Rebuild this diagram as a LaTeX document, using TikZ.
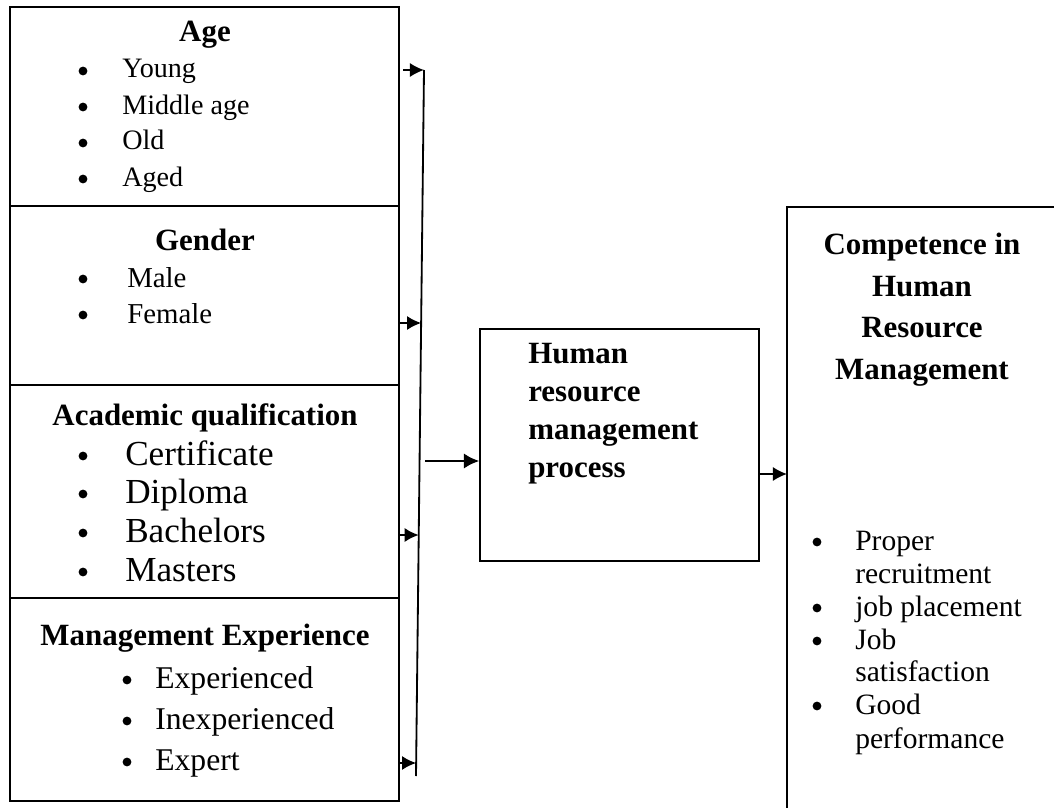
\documentclass[tikz,border=0pt]{standalone}
\usepackage{fontspec}
\setmainfont{Liberation Serif}
\usetikzlibrary{arrows.meta,positioning,fit}

\begin{document}
\begin{tikzpicture}[
  x=0.025cm, y=-0.025cm,
  every node/.style={font=\fontsize{20.5}{24}\selectfont},
  boxline/.style={draw, line width=2.1pt, inner sep=0pt},
  thinbox/.style={draw, line width=0.9pt, inner sep=0pt},
  ttl/.style={font=\fontsize{22}{26}\selectfont\bfseries},
  item/.style={anchor=base west, inner sep=0pt},
  dot/.style={circle, fill, inner sep=0pt, minimum size=0.22cm},
  link/.style={-{Latex[length=10pt,width=10pt]}, line width=1.2pt},
]

%% ── Canvas ─────────────────────────────────────────────────────────────────
\useasboundingbox (0,0) rectangle (1054,808);
\clip (0,0) rectangle (1054,808);

%% ── Left column: four input boxes ──────────────────────────────────────────
\node[boxline, fit={(10,7) (399,206)}]   (age) {};
\node[boxline, fit={(10,206) (399,385)}] (gender) {};
\node[boxline, fit={(10,385) (399,598)}] (acad) {};
\node[boxline, fit={(10,598) (399,801)}] (mgmt) {};

% Age
\node[ttl] (ageT) at (205,35) {Age};
\foreach \t/\yy [count=\i] in {Young/71, Middle age/107, Old/143, Aged/179}{
  \node[dot] (ageB\i) at (83,\yy) {};
  \node[item, font=\fontsize{20}{23}\selectfont] (ageI\i) at (122,\yy+7) {\t};
}

% Gender
\node[ttl] (genT) at (205,240) {Gender};
\foreach \t/\yy [count=\i] in {Male/279, Female/315}{
  \node[dot] (genB\i) at (83,\yy) {};
  \node[item] (genI\i) at (127,\yy+8) {\t};
}

% Academic qualification
\node[ttl] (acaT) at (205,418) {Academic qualification};
\foreach \t/\yy [count=\i] in {Certificate/456, Diploma/494, Bachelors/533, Masters/572}{
  \node[dot] (acaB\i) at (83,\yy) {};
  \node[item, font=\fontsize{25}{29}\selectfont] (acaI\i) at (125,\yy+9) {\t};
}

% Management experience
\node[ttl] (mgtT) at (205,638) {Management Experience};
\foreach \t/\yy [count=\i] in {Experienced/680, Inexperienced/721, Expert/762}{
  \node[dot] (mgtB\i) at (127,\yy) {};
  \node[item, font=\fontsize{22.5}{26}\selectfont] (mgtI\i) at (155,\yy+8) {\t};
}

%% ── Collector line and arrows ───────────────────────────────────────────────
\coordinate (lineTop) at (424,70);
\coordinate (lineBot) at (416,776);
\draw[line width=1.3pt] (lineTop) -- (lineBot);

\coordinate (tip1) at (424,70);
\coordinate (tip2) at (421.1,323);
\coordinate (tip3) at (418.7,535);
\coordinate (tip4) at (416.1,763);
\draw[link] (403,70) -- (tip1);
\draw[link] (age.east |- tip2) -- (tip2);
\draw[link] (age.east |- tip3) -- (tip3);
\draw[link] (age.east |- tip4) -- (tip4);

%% ── Middle box ─────────────────────────────────────────────────────────────
\node[thinbox, fit={(480,329) (759,561)}] (hrm) {};
\node[anchor=north west, align=left, inner sep=0pt,
      font=\fontsize{22}{27}\selectfont\bfseries]
  (hrmT) at (528,343) {Human\\resource\\management\\process};

\coordinate (feed) at (425,461);
\draw[-{Latex[length=11pt,width=11pt]}, line width=2pt] (feed) -- (hrm.west |- feed);

%% ── Right box (runs off the page) ──────────────────────────────────────────
\coordinate (compNW) at (787,207);
\draw[line width=0.9pt] (1070,207) -- (compNW) -- (787,820);

\node[anchor=north, align=center, inner sep=0pt,
      font=\fontsize{22}{29.5}\selectfont\bfseries]
  (compT) at (922,233) {Competence in\\Human\\Resource\\Management};

\foreach \yy in {542, 608, 641, 706}{
  \node[dot] at (817,\yy) {};
}
\foreach \t/\yy [count=\i] in {Proper/542, recruitment/575, job placement/608, Job/641,
                                satisfaction/673, Good/706, performance/740}{
  \node[item, font=\fontsize{21}{24}\selectfont] (compI\i) at (855,\yy+8) {\t};
}

\draw[link] (hrm.east |- 0,474) -- (compNW |- 0,474);

\end{tikzpicture}
\end{document}
